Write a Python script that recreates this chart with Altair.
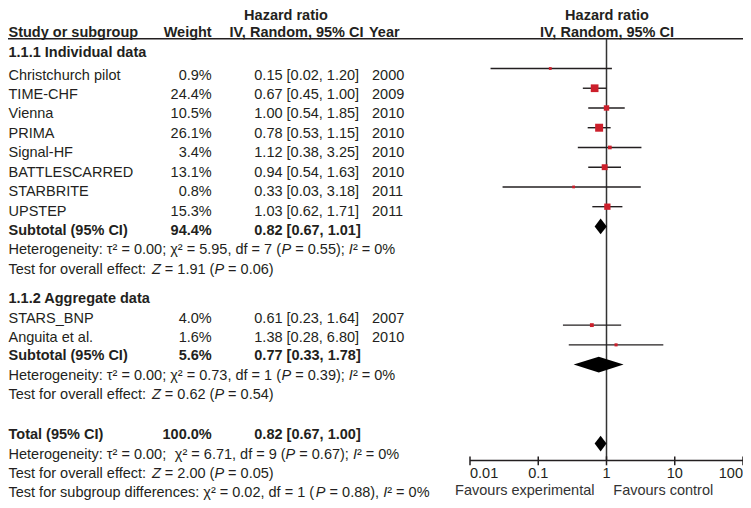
import altair as alt
import pandas as pd

# ---------------- data ----------------
study_names = ["Christchurch pilot", "TIME-CHF", "Vienna", "PRIMA", "Signal-HF",
               "BATTLESCARRED", "STARBRITE", "UPSTEP", "STARS_BNP", "Anguita et al."]
weights = [0.9, 24.4, 10.5, 26.1, 3.4, 13.1, 0.8, 15.3, 4.0, 1.6]
hr = [0.15, 0.67, 1.00, 0.78, 1.12, 0.94, 0.33, 1.03, 0.61, 1.38]
ci_lo = [0.02, 0.45, 0.54, 0.53, 0.38, 0.54, 0.03, 0.62, 0.23, 0.28]
ci_hi = [1.20, 1.00, 1.85, 1.15, 3.25, 1.63, 3.18, 1.71, 1.64, 6.80]
years = [2000, 2009, 2010, 2010, 2010, 2010, 2011, 2011, 2007, 2010]

pooled_labels = ["Subtotal (95% CI)", "Subtotal (95% CI)", "Total (95% CI)"]
pooled_weight = [94.4, 5.6, 100.0]
pooled_hr = [0.82, 0.77, 0.82]
pooled_lo = [0.67, 0.33, 0.67]
pooled_hi = [1.01, 1.78, 1.00]

group_titles = ["1.1.1 Individual data", "1.1.2 Aggregate data"]
# *...* marks italic letters
stat_lines = [
    "Heterogeneity: \u03c4\u00b2 = 0.00; \u03c7\u00b2 = 5.95, df = 7 (*P* = 0.55); *I*\u00b2 = 0%",
    "Test for overall effect: *Z* = 1.91 (*P* = 0.06)",
    "Heterogeneity: \u03c4\u00b2 = 0.00; \u03c7\u00b2 = 0.73, df = 1 (*P* = 0.39); *I*\u00b2 = 0%",
    "Test for overall effect: *Z* = 0.62 (*P* = 0.54)",
    "Heterogeneity: \u03c4\u00b2 = 0.00;  \u03c7\u00b2 = 6.71, df = 9 (*P* = 0.67); *I*\u00b2 = 0%",
    "Test for overall effect: *Z* = 2.00 (*P* = 0.05)",
    "Test for subgroup differences: \u03c7\u00b2 = 0.02, df = 1 (*P* = 0.88), *I*\u00b2 = 0%",
]
tick_values = [0.01, 0.1, 1, 10, 100]
tick_labels = ["0.01", "0.1", "1", "10", "100"]
favours_left = "Favours experimental"
favours_right = "Favours control"

# ---------------- layout (row slots) ----------------
study_rows = [0, 1, 2, 3, 4, 5, 6, 7, 12.5, 13.5]
pooled_rows = [8, 14.45, 18.5]
group_rows = [-1.15, 11.5]
stat_rows = [9, 10, 15.45, 16.45, 19.5, 20.5, 21.5]
study_plot_rows = [0, 1, 2, 3, 4, 5, 6, 7, 13, 14]
pooled_plot_rows = [8, 15, 19]

FONT = "Liberation Sans"
FS = 14.5
INK = "#231F20"
RED = "#CC1F2B"

W, H = 735, 492

# Arial / Liberation Sans advance widths (1/1000 em) for placing italic pieces
AW = {' ': 278, '%': 889, '(': 333, ')': 333, ',': 278, '-': 333, '.': 278, ':': 278, ';': 278,
      '=': 584, '\u00b2': 333, '\u03c4': 440, '\u03c7': 520}
AW.update({d: 556 for d in "0123456789"})
AW.update(dict(zip("abcdefghijklmnopqrstuvwxyz",
                   [556, 556, 500, 556, 556, 278, 556, 556, 222, 222, 500, 222, 833, 556, 556, 556, 556,
                    333, 500, 278, 556, 500, 722, 500, 500, 500])))
AW.update(dict(zip("ABCDEFGHIJKLMNOPQRSTUVWXYZ",
                   [667, 667, 722, 722, 667, 611, 778, 722, 278, 500, 667, 556, 833, 722, 778, 667, 778,
                    722, 667, 611, 722, 667, 944, 667, 667, 611])))


def tw(s):
    return sum(AW.get(c, 556) for c in s) * FS / 1000.0


X_NAME, X_W, X_HR, X_YR = 0.5, 203.7, 246.3, 364

seg_rows = []
for line, r in zip(stat_lines, stat_rows):
    x = X_NAME
    for idx, part in enumerate(line.split("*")):
        # pieces separated by double spaces are placed separately (SVG collapses runs of spaces)
        pieces = part.split("  ")
        for j, piece in enumerate(pieces):
            if j > 0:
                x += tw("  ")
            lead = len(piece) - len(piece.lstrip(" "))
            t = piece.strip(" ")
            if t:
                seg_rows.append({"t": t, "r": r, "px": x + tw(piece[:lead]), "it": idx % 2 == 1})
            x += tw(piece)
segs = pd.DataFrame(seg_rows)

studies = pd.DataFrame({
    "name": study_names, "weight": weights, "hr": hr, "lo": ci_lo, "hi": ci_hi,
    "year": [str(y) for y in years], "r": study_rows, "k": study_plot_rows,
})
studies["wtxt"] = [f"{w:.1f}%" for w in weights]
studies["hrtxt"] = [f"{a:.2f} [{b:.2f}, {c:.2f}]" for a, b, c in zip(hr, ci_lo, ci_hi)]

pooled = pd.DataFrame({
    "name": pooled_labels, "weight": pooled_weight, "hr": pooled_hr,
    "lo": pooled_lo, "hi": pooled_hi, "r": pooled_rows, "k": pooled_plot_rows,
})
pooled["wtxt"] = [f"{w:.1f}%" for w in pooled_weight]
pooled["hrtxt"] = [f"{a:.2f} [{b:.2f}, {c:.2f}]" for a, b, c in zip(pooled_hr, pooled_lo, pooled_hi)]

HALF = 0.4

groups = pd.DataFrame({"t": group_titles, "r": group_rows})
ticks = pd.DataFrame({"v": tick_values, "lab": tick_labels, "i": range(len(tick_values))})


def xs():
    return alt.Scale(type="log", domain=[0.01, 100], range=[462, 735], nice=False)


ident = alt.Scale(type="linear", domain=[0, W], range=[0, W], nice=False, zero=False)
ls = alt.Scale(domain=[0, 20], range=[67.5, 456.3], zero=False, nice=False)
ps = alt.Scale(domain=[0, 20], range=[60.5, 455.3], zero=False, nice=False)


def yl():
    return alt.Y("r:Q", scale=ls, axis=None)


def txt(df, field, x, align="left", bold=False, color=INK):
    return alt.Chart(df).mark_text(
        align=align, baseline="middle", font=FONT, fontSize=FS,
        fontWeight="bold" if bold else "normal", color=color,
    ).encode(x=alt.value(x), y=yl(), text=f"{field}:N")


headers = pd.DataFrame({"t": ["Hazard ratio", "Study or subgroup", "Weight", "IV, Random, 95% CI", "Year",
                              "Hazard ratio", "IV, Random, 95% CI"],
                        "r": [-3.04, -2.2, -2.2, -2.2, -2.2, -3.04, -2.2],
                        "c": ["a", "b", "c", "d", "e", "f", "f"]})


def head(c, x, align):
    return txt(headers[headers.c == c], "t", x, align, bold=True)


layers = [
    head("a", 278, "center"), head("b", X_NAME, "left"), head("c", X_W, "right"),
    head("d", 221.5, "left"), head("e", 361, "left"), head("f", 599, "center"),
    alt.Chart(headers.head(1)).mark_rule(color=INK, strokeWidth=1.5).encode(
        x=alt.value(0), x2=alt.value(W), y=alt.value(30.75)),
    txt(groups, "t", X_NAME, bold=True),
    txt(studies, "name", X_NAME), txt(studies, "wtxt", X_W, "right"),
    txt(studies, "hrtxt", X_HR), txt(studies, "year", X_YR),
    txt(pooled, "name", X_NAME, bold=True), txt(pooled, "wtxt", X_W, "right", bold=True),
    txt(pooled, "hrtxt", X_HR, bold=True),
]

for it in (False, True):
    layers.append(alt.Chart(segs[segs.it == it]).mark_text(
        align="left", baseline="middle", font=FONT, fontSize=FS, color=INK,
        fontStyle="italic" if it else "normal").encode(
        x=alt.X("px:Q", scale=ident, axis=None), y=yl(), text="t:N"))

layers += [
    # vertical line of no effect
    alt.Chart(ticks[ticks.v == 1]).mark_rule(color="#333333", strokeWidth=1.5).encode(
        x=alt.X("v:Q", scale=xs(), axis=None), y=alt.value(30.75), y2=alt.value(452.4)),
    # CI whiskers
    alt.Chart(studies).mark_rule(color=INK, strokeWidth=1.4).encode(
        x=alt.X("lo:Q", scale=xs(), axis=None), x2="hi:Q",
        y=alt.Y("k:Q", scale=ps, axis=None)),
    # squares
    alt.Chart(studies).mark_square(filled=True, color=RED, opacity=1).encode(
        x=alt.X("hr:Q", scale=xs(), axis=None), y=alt.Y("k:Q", scale=ps, axis=None),
        size=alt.Size("weight:Q", scale=alt.Scale(domain=[0, 30], range=[6, 72]), legend=None)),
]

# diamonds, one area layer each (lo -> estimate -> hi)
for a, b, c, k in zip(pooled_lo, pooled_hr, pooled_hi, pooled_plot_rows):
    d = pd.DataFrame({"x": [a, b, c], "top": [k, k - HALF, k], "bot": [k, k + HALF, k]})
    layers.append(alt.Chart(d).mark_area(color="black", orient="vertical", interpolate="linear").encode(
        x=alt.X("x:Q", scale=xs(), axis=None),
        y=alt.Y("top:Q", scale=ps, axis=None), y2="bot:Q"))

layers += [
    # axis line
    alt.Chart(ticks).mark_rule(color=INK, strokeWidth=1.5).encode(
        x=alt.X("min(v):Q", scale=xs(), axis=None), x2="max(v):Q", y=alt.value(452.4)),
    # ticks
    alt.Chart(ticks).mark_rule(color=INK, strokeWidth=1.5).encode(
        x=alt.X("v:Q", scale=xs(), axis=None), y=alt.value(448.4), y2=alt.value(457.3)),
]

for cond, align in [("datum.i == 0", "left"), ("datum.i > 0 && datum.i < 4", "center"), ("datum.i == 4", "right")]:
    layers.append(alt.Chart(ticks).transform_filter(cond).mark_text(
        align=align, baseline="middle", font=FONT, fontSize=FS, color=INK).encode(
        x=alt.X("v:Q", scale=xs(), axis=None), y=alt.value(466.2), text="lab:N"))

fav = pd.DataFrame({"t": [favours_left, favours_right]})
layers.append(alt.Chart(fav.head(1)).mark_text(align="right", baseline="middle", font=FONT, fontSize=FS,
                                               color="#333333").encode(
    x=alt.value(586.5), y=alt.value(483.1), text="t:N"))
layers.append(alt.Chart(fav.tail(1)).mark_text(align="left", baseline="middle", font=FONT, fontSize=FS,
                                               color="#333333").encode(
    x=alt.value(605.3), y=alt.value(483.1), text="t:N"))

chart = alt.layer(*layers).resolve_scale(y="independent", x="independent").properties(
    width=W, height=H, padding=0, autosize="none", background="white"
).configure_view(stroke=None)

chart.save("out.html", embed_options={"renderer": "svg", "actions": False})
